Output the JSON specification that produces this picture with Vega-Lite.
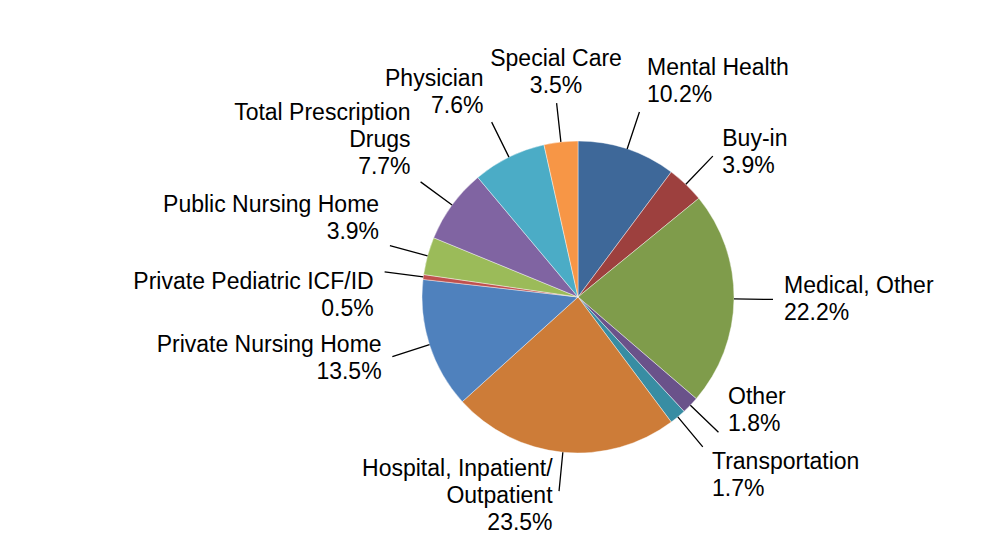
{
  "$schema": "https://vega.github.io/schema/vega-lite/v6.json",
  "width": 312,
  "height": 312,
  "autosize": "none",
  "padding": {"left": 422, "top": 141, "right": 258, "bottom": 87},
  "background": "white",
  "config": {"view": {"stroke": null}},
  "data": {
    "values": [
      {"idx": 1, "name": "Mental Health", "pct": 10.2},
      {"idx": 2, "name": "Buy-in", "pct": 3.9},
      {"idx": 3, "name": "Medical, Other", "pct": 22.2},
      {"idx": 4, "name": "Other", "pct": 1.8},
      {"idx": 5, "name": "Transportation", "pct": 1.7},
      {"idx": 6, "name": "Hospital, Inpatient/\nOutpatient", "pct": 23.5},
      {"idx": 7, "name": "Private Nursing Home", "pct": 13.5},
      {"idx": 8, "name": "Private Pediatric ICF/ID", "pct": 0.5},
      {"idx": 9, "name": "Public Nursing Home", "pct": 3.9},
      {"idx": 10, "name": "Total Prescription\nDrugs", "pct": 7.7},
      {"idx": 11, "name": "Physician", "pct": 7.6},
      {"idx": 12, "name": "Special Care", "pct": 3.5}
    ]
  },
  "transform": [
    {"calculate": "datum.name + '\\n' + format(datum.pct, '.1f') + '%'", "as": "label"}
  ],
  "encoding": {
    "theta": {"field": "pct", "type": "quantitative", "stack": true, "scale": {"domain": [0, 100]}},
    "order": {"field": "idx", "type": "quantitative", "sort": "ascending"}
  },
  "layer": [
    {
      "mark": {"type": "arc", "radius": 156, "stroke": "#ffffff", "strokeWidth": 0.6, "strokeOpacity": 0.7},
      "encoding": {
        "color": {
          "field": "name",
          "type": "nominal",
          "legend": null,
          "scale": {
            "domain": ["Mental Health", "Buy-in", "Medical, Other", "Other", "Transportation", "Hospital, Inpatient/\nOutpatient", "Private Nursing Home", "Private Pediatric ICF/ID", "Public Nursing Home", "Total Prescription\nDrugs", "Physician", "Special Care"],
            "range": ["#3E6899", "#9D403E", "#7F9C4B", "#6A528A", "#388DA3", "#CD7C38", "#4F81BD", "#C0504D", "#9BBB59", "#8064A2", "#4BACC6", "#F79646"]
          }
        }
      }
    },
    {
      "mark": {"type": "arc", "radius": 195, "radius2": 156, "padAngle": 3, "fill": "transparent", "stroke": "#000000", "strokeWidth": 1.3}
    },
    {
      "mark": {
        "type": "text",
        "radius": 200,
        "font": "Liberation Sans",
        "fontSize": 23,
        "lineHeight": 27,
        "lineBreak": "\n",
        "fill": "#000000",
        "align": {"expr": "(datum.pct_start+datum.pct_end)/200 < 0.03 || (datum.pct_start+datum.pct_end)/200 > 0.97 ? 'center' : (datum.pct_start+datum.pct_end)/200 < 0.5 ? 'left' : 'right'"},
        "baseline": {"expr": "(datum.pct_start+datum.pct_end)/200 < 0.08 ? 'bottom' : (datum.pct_start+datum.pct_end)/200 < 0.3 ? 'middle' : (datum.pct_start+datum.pct_end)/200 < 0.38 ? 'bottom' : (datum.pct_start+datum.pct_end)/200 < 0.45 ? 'top' : (datum.pct_start+datum.pct_end)/200 < 0.76 ? 'middle' : (datum.pct_start+datum.pct_end)/200 < 0.78 ? 'top' : 'bottom'"},
        "dx": {"expr": "(datum.pct_start+datum.pct_end)/200 < 0.03 || (datum.pct_start+datum.pct_end)/200 > 0.97 ? 0 : (datum.pct_start+datum.pct_end)/200 < 0.5 ? 6 : -6"},
        "dy": {"expr": "(datum.pct_start+datum.pct_end)/200 < 0.08 ? -(length(split(datum.label, '\\n'))-1)*27 : (datum.pct_start+datum.pct_end)/200 < 0.3 ? -(length(split(datum.label, '\\n'))-1)*13.5 : (datum.pct_start+datum.pct_end)/200 < 0.38 ? -(length(split(datum.label, '\\n'))-1)*27 : (datum.pct_start+datum.pct_end)/200 < 0.45 ? 0 : (datum.pct_start+datum.pct_end)/200 < 0.76 ? -(length(split(datum.label, '\\n'))-1)*13.5 : (datum.pct_start+datum.pct_end)/200 < 0.78 ? 0 : -(length(split(datum.label, '\\n'))-1)*27"}
      },
      "encoding": {"text": {"field": "label"}}
    }
  ]
}
